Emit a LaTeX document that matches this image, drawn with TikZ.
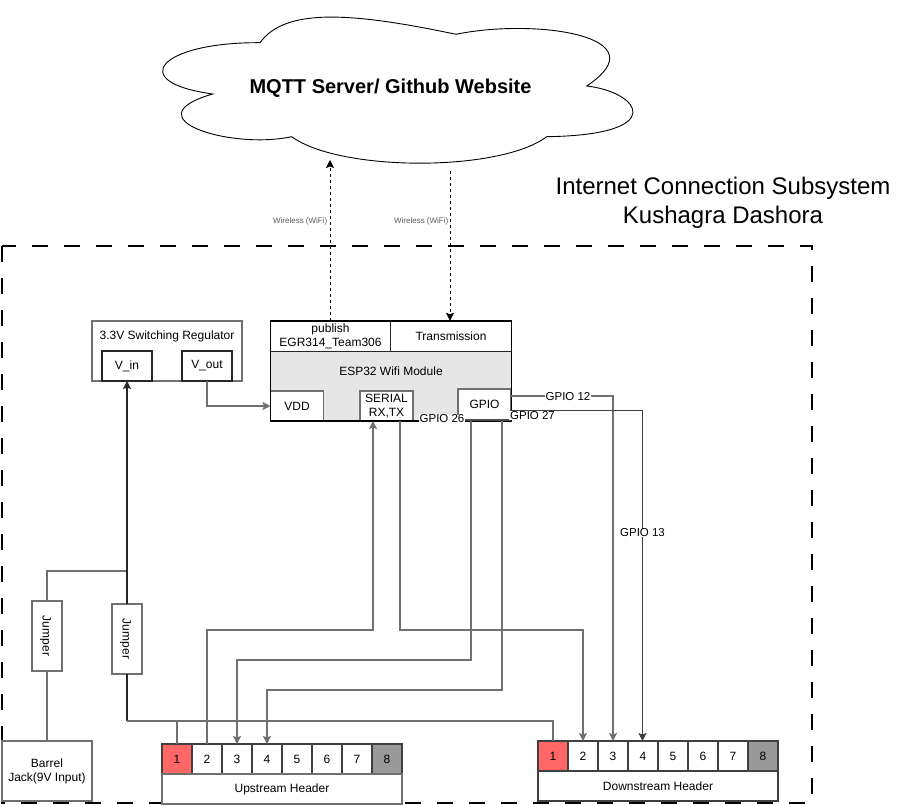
\documentclass[tikz,border=0pt]{standalone}
\usepackage{fontspec}
\setmainfont{Liberation Sans}
\usetikzlibrary{arrows.meta}

\definecolor{pinred}{HTML}{FF6666}
\definecolor{pingray}{HTML}{999999}
\definecolor{espgray}{HTML}{E6E6E6}
\definecolor{softline}{HTML}{707070}

\tikzset{
	>={Stealth[length=8pt,width=8pt,inset=1.5pt]},
	txt/.style={font=\fontsize{12}{14}\selectfont,align=center,inner sep=0pt},
	box/.style={txt,draw=softline,line width=1.2pt,fill=white,outer sep=0pt},
	darkbox/.style={box,draw=black!85},
	cellbox/.style={box,draw=black!75,minimum width=30pt,minimum height=30pt},
	wire/.style={draw=softline,line width=1.1pt},
	darkwire/.style={draw=black!75,line width=1pt},
	power/.style={draw=black!85,line width=1.4pt},
	wifi/.style={draw=black,line width=0.8pt,dash pattern=on 3pt off 3pt},
	wifitxt/.style={font=\fontsize{8}{9}\selectfont,text=black!65,inner sep=0pt},
	pinlabel/.style={txt,fill=white,font=\fontsize{11.5}{14}\selectfont,inner xsep=1pt},
}

\begin{document}
\begin{tikzpicture}[x=1pt,y=-1pt]
	\useasboundingbox (0,0) rectangle (910,805);

	% Subsystem border
	\draw[line width=2pt,dash pattern=on 16pt off 16pt] (2,246) rectangle (812,803);

	% Cloud
	\draw[line width=0.9pt] (260,42.7)
		.. controls (285,8) and (350,12) .. (456,34.3)
		.. controls (535,18) and (662,36) .. (586.7,86)
		.. controls (640,92) and (670,135) .. (546.7,136.7)
		.. controls (500,172) and (340,172) .. (291.7,136.7)
		.. controls (230,150) and (130,118) .. (212.7,94)
		.. controls (125,82) and (160,42) .. cycle;
	\node[font=\fontsize{20}{24}\selectfont\bfseries,inner sep=0pt] (server) at (390.5,88.5) {MQTT Server/ Github Website};
	\coordinate (cloudin) at (330,160);
	\coordinate (cloudout) at (450,171);

	% Title
	\node[font=\fontsize{24}{29}\selectfont,align=center,inner sep=0pt] (title) at (723,203) {Internet Connection Subsystem\\Kushagra Dashora};

	% Regulator
	\node[box,minimum width=150pt,minimum height=60pt] (regulator) at (167,351) {};
	\node[txt] (regtitle) at (167,336) {3.3V Switching Regulator};
	\node[darkbox,minimum width=50pt,minimum height=30pt] (vin) at (127,366) {V\_in};
	\node[darkbox,minimum width=50pt,minimum height=30pt] (vout) at (207,366) {V\_out};

	% ESP32 module
	\node[txt,fill=espgray,minimum width=241pt,minimum height=70pt] (espbody) at (391,386) {};
	\node[txt] (esplabel) at (391,371) {ESP32 Wifi Module};
	\node[txt,minimum width=120pt,minimum height=30pt] (publish) at (330.5,336) {publish\\EGR314\_Team306};
	\node[txt,minimum width=121pt,minimum height=30pt] (transmission) at (451,336) {Transmission};
	\node[darkbox,draw=softline,minimum width=53pt,minimum height=30pt] (vdd) at (297,406) {VDD};
	\node[box,minimum width=53pt,minimum height=30pt] (serial) at (386.5,406) {SERIAL\\RX,TX};
	\node[box,minimum width=53pt,minimum height=31pt] (gpio) at (484.5,404.5) {GPIO};
	\node[draw=black,line width=1.6pt,minimum width=241pt,minimum height=100pt,inner sep=0pt] (esp) at (391,371) {};
	\draw[line width=1.2pt,black!85] (publish.south west) -- (transmission.south east);
	\draw[line width=1pt,black!85] (publish.north east) -- (publish.south east);

	% Headers
	\foreach \i/\c in {1/pinred,2/white,3/white,4/white,5/white,6/white,7/white,8/pingray}{
		\node[cellbox,fill=\c] (up\i) at ({147+30*\i},759) {\i};
		\node[cellbox,fill=\c] (dn\i) at ({523+30*\i},756) {\i};
	}
	\node[box,minimum width=240pt,minimum height=30pt] (upstream) at (282,789) {Upstream Header};
	\node[box,draw=black!75,minimum width=240pt,minimum height=30pt] (downstream) at (658,786) {Downstream Header};

	% Power input
	\node[box,minimum width=90pt,minimum height=60pt] (barrel) at (47,771) {Barrel\\Jack(9V Input)};
	\node[box,minimum width=30pt,minimum height=70pt] (jumperA) at (47,636) {\rotatebox{-90}{Jumper}\hspace{3pt}};
	\node[box,minimum width=30pt,minimum height=70pt] (jumperB) at (127,639) {\rotatebox{-90}{Jumper}\hspace{3pt}};
	\coordinate (tap) at (127,571);
	\coordinate (rail) at (127,721);

	% Power wires
	\draw[wire] (barrel.north) -- (jumperA.south);
	\draw[wire] (jumperA.north) |- (tap);
	\draw[power,->] (jumperB.north) -- (vin.south);
	\draw[power] (jumperB.south) -- (rail);
	\draw[wire] (rail) -| (dn1.north);
	\draw[wire] (up1.north) -- (up1.north |- rail);
	\draw[wire,->] (vout.south) |- (vdd.west);

	% Serial wires
	\draw[wire,->] (up2.north) |- ++(166,-114) -- ([xshift=-13.5pt]serial.south);
	\draw[wire,->] ([xshift=13.5pt]serial.south) -- ++(0,209) -| (dn2.north);

	% GPIO wires
	\draw[wire,->] ([xshift=-13.5pt]gpio.south) -- ++(0,240) -| (up3.north);
	\draw[wire,->] ([xshift=17.5pt]gpio.south) -- ++(0,270) -| (up4.north);
	\draw[wire,->] ([yshift=8.5pt]gpio.east) -| (dn3.north);
	\draw[darkwire,->] ([yshift=-6pt]gpio.east) -| ([xshift=-0.5pt]dn4.north);
	\draw[line width=1.6pt,black!70] (gpio.south west) -- (gpio.south east);

	% Pin labels
	\node[pinlabel] (gpioA) at (568,396.5) {GPIO 12};
	\node[pinlabel] (gpioB) at (532.5,415.5) {GPIO 27};
	\node[pinlabel] (gpioC) at (442,419) {GPIO 26};
	\node[pinlabel] (gpioD) at (642.5,533) {GPIO 13};

	% Wireless links
	\draw[wifi,->] (publish.north -| cloudin) -- (cloudin);
	\draw[wifi,->] (cloudout) -- (transmission.north -| cloudout);
	\node[wifitxt,anchor=east] (wifiA) at (327.5,221) {Wireless (WiFi)};
	\node[wifitxt,anchor=east] (wifiB) at (448.5,221) {Wireless (WiFi)};
\end{tikzpicture}
\end{document}
